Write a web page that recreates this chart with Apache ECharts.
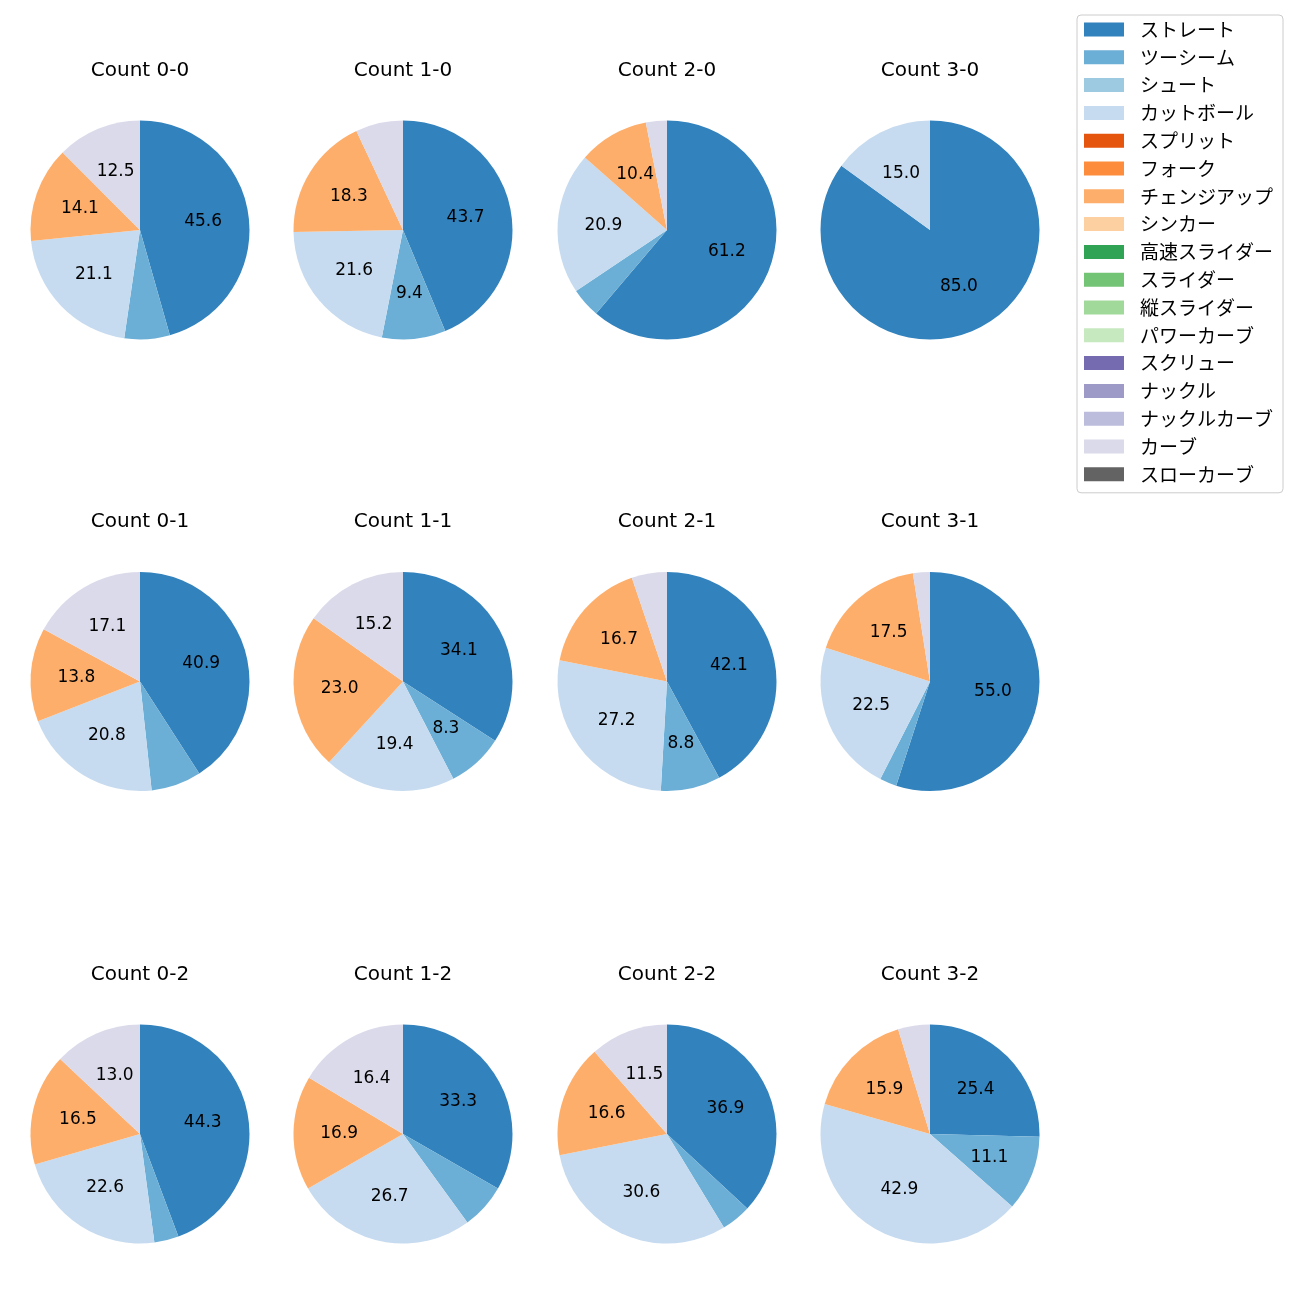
<!DOCTYPE html>
<html>
<head>
<meta charset="utf-8">
<script src="https://cdn.jsdelivr.net/npm/echarts@6/dist/echarts.min.js"></script>
<style>
html,body{margin:0;padding:0;background:#fff;}
#chart{width:1300px;height:1300px;}
</style>
</head>
<body>
<div id="chart"></div>
<script>
// Pitch types (legend order) and colours
const pitchTypes = ['ストレート','ツーシーム','シュート','カットボール','スプリット','フォーク','チェンジアップ','シンカー','高速スライダー','スライダー','縦スライダー','パワーカーブ','スクリュー','ナックル','ナックルカーブ','カーブ','スローカーブ'];
const pitchColors = ['#3182bd','#6baed6','#9ecae1','#c6dbef','#e6550d','#fd8d3c','#fdae6b','#fdd0a2','#31a354','#74c476','#a1d99b','#c7e9c0','#756bb1','#9e9ac8','#bcbddc','#dadaeb','#636363'];

// Values (%), in pitchTypes order
const count00 = [45.6, 6.7, 0, 21.1, 0, 0, 14.1, 0, 0, 0, 0, 0, 0, 0, 0, 12.5, 0];
const count10 = [43.7, 9.4, 0, 21.6, 0, 0, 18.3, 0, 0, 0, 0, 0, 0, 0, 0, 7.0, 0];
const count20 = [61.2, 4.4, 0, 20.9, 0, 0, 10.4, 0, 0, 0, 0, 0, 0, 0, 0, 3.1, 0];
const count30 = [85.0, 0, 0, 15.0, 0, 0, 0, 0, 0, 0, 0, 0, 0, 0, 0, 0, 0];
const count01 = [40.9, 7.4, 0, 20.8, 0, 0, 13.8, 0, 0, 0, 0, 0, 0, 0, 0, 17.1, 0];
const count11 = [34.1, 8.3, 0, 19.4, 0, 0, 23.0, 0, 0, 0, 0, 0, 0, 0, 0, 15.2, 0];
const count21 = [42.1, 8.8, 0, 27.2, 0, 0, 16.7, 0, 0, 0, 0, 0, 0, 0, 0, 5.2, 0];
const count31 = [55.0, 2.5, 0, 22.5, 0, 0, 17.5, 0, 0, 0, 0, 0, 0, 0, 0, 2.5, 0];
const count02 = [44.3, 3.6, 0, 22.6, 0, 0, 16.5, 0, 0, 0, 0, 0, 0, 0, 0, 13.0, 0];
const count12 = [33.3, 6.7, 0, 26.7, 0, 0, 16.9, 0, 0, 0, 0, 0, 0, 0, 0, 16.4, 0];
const count22 = [36.9, 4.4, 0, 30.6, 0, 0, 16.6, 0, 0, 0, 0, 0, 0, 0, 0, 11.5, 0];
const count32 = [25.4, 11.1, 0, 42.9, 0, 0, 15.9, 0, 0, 0, 0, 0, 0, 0, 0, 4.7, 0];

const panelTitles = ['Count 0-0','Count 1-0','Count 2-0','Count 3-0','Count 0-1','Count 1-1','Count 2-1','Count 3-1','Count 0-2','Count 1-2','Count 2-2','Count 3-2'];
const panelValues = [count00,count10,count20,count30,count01,count11,count21,count31,count02,count12,count22,count32];
const labelThreshold = 8;

const FONT_JP = '"Noto Sans CJK JP", "Noto Sans", sans-serif';
const FONT_LAT = '"DejaVu Sans", "Noto Sans", sans-serif';
const colX = [140, 403, 667, 930];
const rowY = [230, 681.5, 1134];
const R = 109.5;
const titleOffset = 159.5;

const series = [];
const labelSeries = [];
const graphics = [];
panelValues.forEach((vals, i) => {
  const cx = colX[i % 4], cy = rowY[Math.floor(i / 4)];
  series.push({
    type: 'pie',
    name: panelTitles[i],
    center: [cx, cy],
    radius: [0, R],
    startAngle: 90,
    clockwise: true,
    animation: false,
    label: { show: false },
    labelLine: { show: false },
    emphasis: { disabled: true },
    data: vals.map((v, k) => ({ name: pitchTypes[k], value: v, itemStyle: { color: pitchColors[k] } }))
  });
  labelSeries.push({
    type: 'pie',
    name: panelTitles[i] + ' labels',
    center: [cx, cy],
    radius: [R * 0.11, R],
    startAngle: 90,
    clockwise: true,
    animation: false,
    silent: true,
    labelLine: { show: false },
    emphasis: { disabled: true },
    itemStyle: { color: 'rgba(0,0,0,0)' },
    data: vals.map((v, k) => ({
      name: pitchTypes[k], value: v,
      itemStyle: { color: 'rgba(0,0,0,0)' },
      label: {
        show: v >= labelThreshold,
        position: 'inside',
        formatter: v.toFixed(1),
        color: '#000',
        fontSize: 17,
        fontFamily: FONT_LAT
      }
    }))
  });
  graphics.push({
    type: 'text',
    x: cx, y: cy - titleOffset,
    style: { text: panelTitles[i], fill: '#000', font: '20px ' + FONT_LAT, textAlign: 'center', textVerticalAlign: 'middle' }
  });
});

const chart = echarts.init(document.getElementById('chart'), null, { renderer: 'canvas' });
chart.setOption({
  backgroundColor: '#fff',
  animation: false,
  color: pitchColors,
  legend: {
    orient: 'vertical',
    left: 1077,
    top: 15,
    padding: [5, 10, 9, 7],
    itemWidth: 40,
    itemHeight: 14,
    itemGap: 8.8,
    icon: 'rect',
    borderColor: '#cccccc',
    borderWidth: 1,
    borderRadius: 4,
    backgroundColor: '#fff',
    selectedMode: false,
    data: pitchTypes,
    textStyle: { fontSize: 19, lineHeight: 18, color: '#000', fontFamily: FONT_JP, padding: [0, 0, 0, 11] }
  },
  graphic: graphics,
  series: series.concat(labelSeries)
});
</script>
</body>
</html>
